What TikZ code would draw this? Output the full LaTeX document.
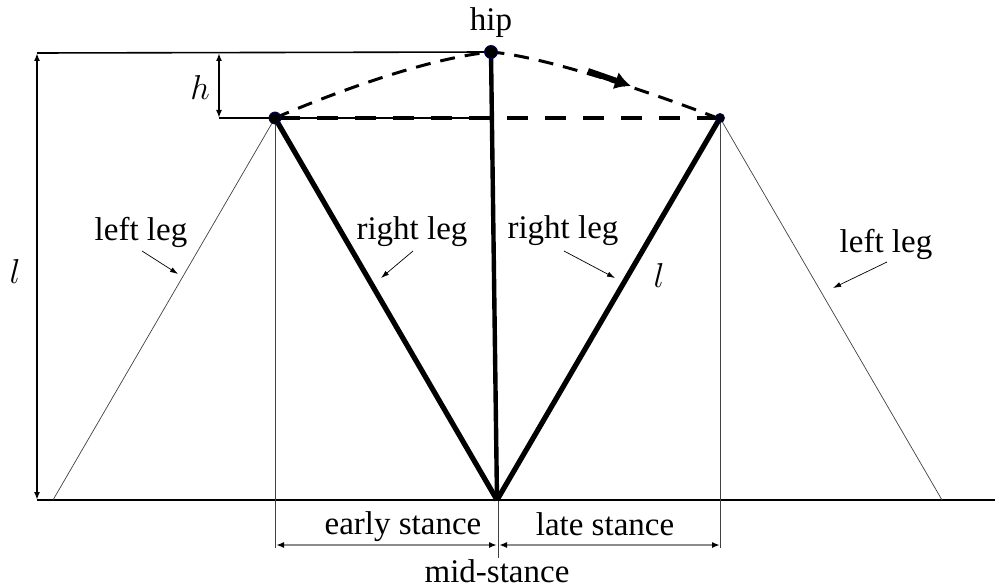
\documentclass[tikz,border=0pt]{standalone}
\usepackage{fontspec}
\setmainfont{Liberation Serif}
\usetikzlibrary{arrows.meta}
\begin{document}
\begin{tikzpicture}[x=0.5pt,y=-0.5pt,
  hipdot/.style={circle,fill=black,draw=blue!35!black,line width=0.4pt,inner sep=0pt,minimum size=#1},
  legline/.style={line width=2.6pt},
  thinline/.style={line width=0.35pt,draw=black!75},
  dimline/.style={line width=0.9pt,{Latex[length=4pt,width=3pt]}-{Latex[length=4pt,width=3pt]}},
  stanceline/.style={line width=0.8pt,draw=black!45,{Latex[length=4pt,width=3pt,color=black]}-{Latex[length=4pt,width=3pt,color=black]}},
  lbl/.style={font=\fontsize{16.5}{19}\selectfont,inner sep=0pt},
  ptr/.style={line width=0.35pt,-{Latex[length=4pt,width=2.6pt]}},
]
\useasboundingbox (0,0) rectangle (995,588);

% key points
\coordinate (foot) at (497,500);
\coordinate (gl) at (37,500);
\coordinate (gr) at (995,500);
\coordinate (topl) at (37,53);
\coordinate (hbot) at (219,118);
\coordinate (htop) at (219,53);
\coordinate (lfoot) at (53,500);
\coordinate (rfoot) at (942,500);
\coordinate (lvb) at (275,548);
\coordinate (rvb) at (720,548);
\coordinate (mtop) at (498,500);
\coordinate (mbot) at (498,558);
\coordinate (sl) at (276,545);
\coordinate (sm1) at (497,545);
\coordinate (sm2) at (499,545);
\coordinate (sr) at (720,545);
\coordinate (thinend) at (491,118);

% ground and dimension lines
\draw[line width=1pt] (gl) -- (gr);
\draw[line width=0.8pt] (topl) -- (491,52);
\draw[dimline] (topl) -- (gl);
\draw[dimline] (htop) -- (hbot);
\draw[line width=0.8pt] (hbot) -- (thinend);

% thin legs and vertical references
\draw[thinline] (275,118) -- (lfoot);
\draw[thinline] (720,118) -- (rfoot);
\draw[thinline] (275,118) -- (lvb);
\draw[thinline] (720,118) -- (rvb);
\draw[thinline] (mtop) -- (mbot);

% horizontal dashed line
\draw[line width=2.3pt,dash pattern=on 10.5pt off 8.5pt,dash phase=-2pt] (275,118) -- (720,118);

% dashed hip trajectory
\draw[line width=1.5pt,dash pattern=on 7.5pt off 5pt] (275,118) .. controls (340,90) and (430,58) .. (491,52)
  .. controls (540,56) and (640,88) .. (720,119);
\coordinate (arrs) at (588,71);
\coordinate (arre) at (631,86);
\draw[line width=3pt,-{Latex[length=8pt,width=9pt]}] (arrs) -- (arre);

% stance legs
\draw[legline] (275,118) -- (foot);
\draw[legline] (720,118) -- (foot);
\draw[line width=2.2pt] (491,52) -- (foot);

% dots
\node[hipdot=6pt] (hipL) at (275,118) {};
\node[hipdot=6.5pt] (hip) at (491,52) {};
\node[hipdot=4.5pt] (hipR) at (720,118) {};

% stance dimensions
\draw[stanceline] (sl) -- (sm1);
\draw[stanceline] (sm2) -- (sr);

% labels
\node[lbl] (thip) at (491,23) {hip};
\node[lbl] (th) at (200,88) {$h$};
\node[lbl] (tl1) at (15,272) {$l$};
\node[lbl] (tl2) at (659,275) {$l$};
\node[lbl] (ll1) at (141,232) {left leg};
\node[lbl] (rl1) at (412,232) {right leg};
\node[lbl] (rl2) at (563,231) {right leg};
\node[lbl] (ll2) at (886,244) {left leg};
\node[lbl] (early) at (403,527) {early stance};
\node[lbl] (late) at (605,524) {late stance};
\node[lbl] (mid) at (497,571) {mid-stance};

% pointer arrows
\coordinate (p1s) at (142,251); \coordinate (p1e) at (178,274);
\coordinate (p2s) at (413,251); \coordinate (p2e) at (381,278);
\coordinate (p3s) at (564,251); \coordinate (p3e) at (615,278);
\coordinate (p4s) at (887,262); \coordinate (p4e) at (833,288);
\draw[ptr] (p1s) -- (p1e);
\draw[ptr] (p2s) -- (p2e);
\draw[ptr] (p3s) -- (p3e);
\draw[ptr] (p4s) -- (p4e);
\end{tikzpicture}
\end{document}
